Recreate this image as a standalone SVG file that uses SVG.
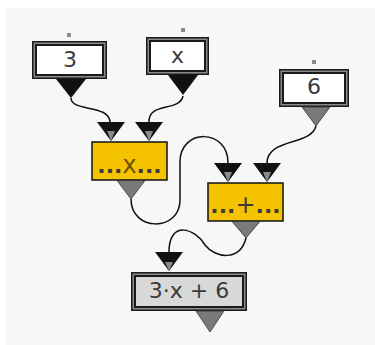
<svg xmlns="http://www.w3.org/2000/svg" width="375" height="345" viewBox="0 0 375 345">
<style>
.frame-o{fill:#1a1a1a}
.frame-m{fill:#8a8a8a}
.frame-i{fill:#1a1a1a}
.val{fill:#ffffff}
.res{fill:#d8d8d8}
.op{fill:#f6c300;stroke:#111;stroke-width:1.5}
.tri-b{fill:#111}
.tri-g{fill:#7a7a7a;stroke:#333;stroke-width:0.8}
.tip{fill:#8a8a8a}
.dot{fill:#8a8a8a}
.wire{fill:none;stroke:#111;stroke-width:1.5}
.t{font-family:"DejaVu Sans",sans-serif;font-size:22px;text-anchor:middle;fill:#3a3a3a}
.d{font-weight:bold}
</style>
<rect x="6" y="8" width="369" height="337" fill="#f7f7f7"/>
<g id="connectors">
<path class="wire" d="M71,98 C71,112 109,104 110,122"/>
<path class="wire" d="M183,96 C180,112 148,102 149,122"/>
<path class="wire" d="M316,126 C311,146 267,138 267,163"/>
<path class="wire" d="M131,199 C131,232 180,232 180,200 L180,162 C180,128 228,128 228,163"/>
<path class="wire" d="M246,238 C240,262 215,258 205,245 C195,228 169,220 169,252"/>
</g>
<g id="n3">
<rect class="dot" x="67" y="33" width="4" height="4"/>
<rect class="frame-o" x="32" y="41" width="75" height="38"/>
<rect class="frame-m" x="33.5" y="42.5" width="72" height="35"/>
<rect class="frame-i" x="35" y="44" width="69" height="32"/>
<rect class="val" x="37" y="46" width="65" height="28"/>
<text class="t" x="70" y="67">3</text>
<path class="tri-b" d="M56,79 H86 L71,98 Z"/>
</g>
<g id="nx">
<rect class="dot" x="181" y="28" width="4" height="4"/>
<rect class="frame-o" x="146" y="37" width="63" height="38"/>
<rect class="frame-m" x="147.5" y="38.5" width="60" height="35"/>
<rect class="frame-i" x="149" y="40" width="57" height="32"/>
<rect class="val" x="151" y="42" width="53" height="28"/>
<text class="t" x="177.5" y="63" fill="#555">x</text>
<path class="tri-b" d="M168,75 H198 L183,95 Z"/>
</g>
<g id="n6">
<rect class="dot" x="312" y="60" width="4" height="4"/>
<rect class="frame-o" x="279" y="69" width="70" height="38"/>
<rect class="frame-m" x="280.5" y="70.5" width="67" height="35"/>
<rect class="frame-i" x="282" y="72" width="64" height="32"/>
<rect class="val" x="284" y="74" width="60" height="28"/>
<text class="t" x="314" y="94">6</text>
<path class="tri-g" d="M302,107 H330 L316,126 Z"/>
</g>
<g id="mul">
<path class="tri-b" d="M97,122 H125 L111,141 Z"/>
<path class="tip" d="M107,131 H115 L111,141 Z"/>
<path class="tri-b" d="M135,122 H163 L149,141 Z"/>
<path class="tip" d="M145,131 H153 L149,141 Z"/>
<rect class="op" x="92" y="142" width="75" height="38"/>
<text class="t" x="129.5" y="173" fill="#111"><tspan class="d">...</tspan><tspan fill="#6e5200" font-size="24">x</tspan><tspan class="d">...</tspan></text>
<path class="tri-g" d="M117,180.5 H145 L131,199 Z"/>
</g>
<g id="add">
<path class="tri-b" d="M214,163 H242 L228,182 Z"/>
<path class="tip" d="M224,172 H232 L228,182 Z"/>
<path class="tri-b" d="M253,163 H281 L267,182 Z"/>
<path class="tip" d="M263,172 H271 L267,182 Z"/>
<rect class="op" x="208" y="183" width="75" height="38"/>
<text class="t" x="245.5" y="213" fill="#111"><tspan class="d">...</tspan><tspan font-size="24">+</tspan><tspan class="d">...</tspan></text>
<path class="tri-g" d="M232,221.5 H260 L246,238 Z"/>
</g>
<g id="result">
<path class="tri-b" d="M155,252 H183 L169,271 Z"/>
<path class="tip" d="M165,262 H173 L169,271 Z"/>
<rect class="frame-o" x="131" y="272" width="116" height="39"/>
<rect class="frame-m" x="132.5" y="273.5" width="113" height="36"/>
<rect class="frame-i" x="134" y="275" width="110" height="33"/>
<rect class="res" x="136" y="277" width="106" height="29"/>
<text class="t" x="189" y="298" fill="#333">3·x + 6</text>
<path class="tri-g" d="M196,311 H224 L210,332 Z"/>
</g>
</svg>
